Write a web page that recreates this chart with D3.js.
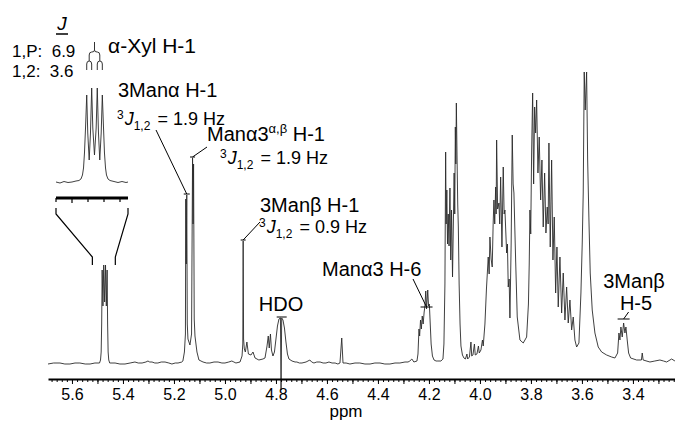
<!DOCTYPE html>
<html><head><meta charset="utf-8">
<script src="https://cdn.jsdelivr.net/npm/d3@7"></script>
<style>
body{margin:0;background:#fff;}
svg{display:block;font-family:"Liberation Sans",Arial,Helvetica,sans-serif;}
</style></head><body>
<svg id="c" width="675" height="423"></svg>
<script>
// ---------- DATA ----------
// [ppm, intensity] vertices of the 1H spectrum trace
const spectrum = [
[5.694,0],[5.672,1],[5.647,1],[5.628,0],[5.608,0],[5.588,1],[5.569,1],[5.548,0],[5.529,0],[5.510,1],[5.498,1],
[5.492,1],[5.488,4],[5.4855,12],[5.4835,40],[5.4816,94],[5.4785,58],[5.4754,99],[5.4719,62],[5.4684,99],[5.4653,58],[5.4621,94],[5.4602,40],[5.4582,12],[5.4557,4],[5.452,1],
[5.431,1],[5.412,0],[5.392,0],[5.372,1],[5.353,2],[5.340,1],[5.325,1],[5.31,2],[5.302,3],[5.295,2],[5.286,2],[5.275,1],[5.263,1],[5.25,2],[5.235,2],[5.22,1],[5.208,0],[5.195,1],[5.184,1],[5.169,2],
[5.165,3],[5.159,12],[5.155,30],[5.1537,165],[5.1518,100],[5.1498,169],[5.1478,40],[5.1451,25],[5.1373,19],[5.131,30],[5.1271,206],[5.1251,140],[5.1231,200],[5.1205,45],[5.1176,28],[5.1098,12],[5.102,4],[5.086,2],
[5.072,1],[5.059,1],[5.043,2],[5.027,2],[5.012,1],[5.000,1],[4.985,2],[4.973,3],[4.965,2],[4.957,1],
[4.941,2],[4.933,8],[4.930,20],[4.9286,123],[4.927,25],[4.924,15],[4.920,12],[4.914,22],[4.908,10],[4.898,9],[4.890,12],[4.882,6],[4.867,4],[4.851,5],
[4.843,6],[4.835,18],[4.8302,28],[4.8263,16],[4.8216,30],[4.8176,14],[4.8118,8],
[4.8059,12],[4.800,25],[4.7941,38],[4.7882,45],[4.7824,46],[4.7800,-26],[4.7775,46],[4.7725,44],[4.7667,36],[4.7608,22],[4.7549,10],[4.749,5],[4.737,3],
[4.725,2],[4.718,2],[4.708,1],[4.698,1],[4.682,2],[4.667,4],[4.660,2],[4.651,1],[4.640,2],[4.627,2],[4.615,1],[4.604,1],[4.592,2],[4.580,1],[4.568,1],[4.557,0],[4.549,1],[4.542,26],[4.537,1],[4.525,1],[4.510,0],[4.490,1],[4.471,1],[4.451,0],[4.431,0],[4.412,1],[4.392,1],[4.373,0],[4.353,0],[4.333,1],[4.314,1],[4.294,2],[4.282,2],[4.275,3],[4.267,5],[4.259,2],[4.247,3],
[4.243,10],[4.239,35],[4.2365,28],[4.233,44],[4.2298,35],[4.2263,48],[4.2227,40],[4.2188,52],[4.2157,58],[4.2125,73],[4.2094,55],[4.2047,74],[4.2016,58],[4.1984,60],[4.1949,40],[4.1914,20],[4.1863,8],[4.180,4],[4.172,3],[4.165,3],[4.153,3],[4.145,5],
[4.1412,20],[4.1373,80],[4.1345,212],[4.1325,140],[4.1298,174],[4.1271,120],[4.1243,150],[4.1212,118],[4.1176,176],[4.1145,104],[4.1114,154],[4.1075,87],[4.1043,140],[4.1012,191],[4.0988,150],[4.0965,237],[4.0945,200],[4.0925,261],[4.0898,207],[4.0871,160],[4.0847,137],[4.0816,80],[4.0780,40],[4.0745,18],[4.0686,9],[4.0627,6],
[4.0569,5],[4.0510,10],[4.0482,5],[4.0412,7],[4.0353,22],[4.0322,8],[4.0275,9],[4.0216,20],[4.0184,9],[4.0118,10],[4.0059,18],[4.0027,11],[3.9961,14],[3.9902,24],[3.9871,18],[3.9804,40],
[3.9745,75],[3.9675,107],[3.9639,90],[3.9608,127],[3.9561,105],[3.9518,97],[3.9482,140],[3.9451,164],[3.9420,140],[3.9384,177],[3.9365,150],[3.9345,224],[3.9306,155],[3.9255,161],[3.9224,140],[3.9188,187],[3.9137,117],[3.9086,197],[3.9051,150],[3.9020,154],[3.8953,111],[3.8922,120],[3.8890,77],[3.8855,85],[3.8824,46],[3.8776,120],[3.8733,229],[3.8698,180],[3.8667,171],[3.8600,104],[3.8537,47],[3.8431,24],[3.8302,21],[3.8169,27],[3.8098,60],[3.8067,100],
[3.8039,154],[3.8008,130],[3.7973,211],[3.7933,271],[3.7894,180],[3.7855,257],[3.7816,231],[3.7776,264],[3.7725,191],[3.7675,227],[3.7620,164],[3.7569,204],[3.7518,137],[3.7463,191],[3.7412,131],[3.7361,157],[3.7325,140],[3.7294,221],[3.7243,117],[3.7188,204],[3.7137,104],[3.7086,147],[3.7031,71],[3.6980,117],[3.6929,57],[3.6863,107],[3.6796,51],[3.6733,91],[3.6667,44],[3.6600,77],[3.6537,41],[3.6471,64],[3.6404,34],[3.6341,47],[3.6275,24],[3.6208,17],[3.6118,21],
[3.6039,71],[3.5988,121],[3.5949,171],[3.5910,292],[3.5871,254],[3.5816,292],[3.5776,204],[3.5725,144],[3.5675,91],[3.5596,54],[3.5490,31],[3.5361,17],[3.5227,12],[3.5031,9],[3.4835,7],[3.4706,6],
[3.4600,11],[3.4549,31],[3.4510,24],[3.4471,37],[3.4420,27],[3.4365,41],[3.4314,31],[3.4275,37],[3.4224,24],[3.4169,11],[3.4090,6],[3.3855,4],[3.3667,4],[3.3635,11],[3.3600,4],[3.3333,2],[3.314,3],[3.2941,4],[3.28,3],[3.2678,2],[3.2482,5],[3.2353,3]
];
// expanded alpha-Xyl H-1 multiplet shown in the inset: [ppm, intensity]
const insetTrace = [
[5.520,1],[5.515,0],[5.510,1.5],[5.505,0.5],[5.500,1],[5.495,2],[5.4913,2.5],[5.4888,4],[5.4869,8],[5.4856,15],[5.4844,30],[5.4831,55],
[5.4816,88],[5.4803,50],[5.4785,23],[5.4769,50],[5.4754,95],[5.4740,55],[5.4719,28],[5.4698,55],[5.4684,95],[5.4669,50],[5.4653,23],[5.4635,50],[5.4621,88],
[5.4606,55],[5.4594,30],[5.4581,15],[5.4569,8],[5.455,4],[5.4525,2.5],[5.4475,1.5],[5.4425,0.5],[5.4375,1.5],[5.4325,0.5],[5.430,1]
];
const xylLines = [5.4816, 5.4754, 5.4684, 5.4621];   // the four lines of the dd
const couplings = [{pair:"1,P", J:6.9}, {pair:"1,2", J:3.6}];
const tickLabels = [5.6,5.4,5.2,5.0,4.8,4.6,4.4,4.2,4.0,3.8,3.6,3.4];
const midTicks = [5.5,5.3,5.1,4.9,4.7,4.5,4.3,4.1,3.9,3.7,3.5,3.3];
const insetTicks = [5.52,5.50,5.48,5.46,5.44];
const insetDomain = [5.52, 5.43];
const jValues = [1.9, 1.9, 0.9];  // 3J1,2 of the three anomeric signals
const annotations = [
  {id:"man3a", text:"3Manα H-1", ppm:5.1498},
  {id:"mana3", text:"Manα3", sup:"α,β", rest:" H-1", ppm:5.1271},
  {id:"man3b", text:"3Manβ H-1", ppm:4.9286},
  {id:"hdo",   text:"HDO", ppm:4.7775},
  {id:"h6",    text:"Manα3 H-6", ppm:4.2094},
  {id:"h5",    text:"3Manβ", line2:"H-5", ppm:3.4365}
];

// ---------- DRAWING ----------
const svg = d3.select("#c");
const x = d3.scaleLinear().domain([5.694, 3.235]).range([48, 675]);
const y = d3.scaleLinear().domain([0, 292]).range([364, 72]);
const ink = "#000";

// spectrum
svg.append("path").datum(spectrum)
  .attr("d", d3.line().x(d=>x(d[0])).y(d=>y(d[1])))
  .attr("fill","none").attr("stroke","#2a2a2a").attr("stroke-width",0.9)
  .attr("stroke-linejoin","round");

// axis
const axisY = 379;
const minorTicks = d3.range(162, 285).map(i => +(i*0.02).toFixed(2)).filter(v => v>=3.24 && v<=5.69);
const gMinor = svg.append("g").attr("transform",`translate(0,${axisY})`)
  .call(d3.axisBottom(x).tickValues(minorTicks).tickSize(3).tickSizeOuter(0).tickFormat(""));
gMinor.select(".domain").remove();
const gMid = svg.append("g").attr("transform",`translate(0,${axisY})`)
  .call(d3.axisBottom(x).tickValues(midTicks).tickSize(5).tickSizeOuter(0).tickFormat(""));
gMid.select(".domain").remove();
const gMaj = svg.append("g").attr("transform",`translate(0,${axisY})`)
  .call(d3.axisBottom(x).tickValues(tickLabels).tickSize(5).tickSizeOuter(0).tickPadding(5).tickFormat(d3.format(".1f")));
gMaj.select(".domain").attr("stroke-width",1.8).attr("stroke",ink);
svg.selectAll(".tick line").attr("stroke",ink).attr("stroke-width",1);
gMaj.selectAll(".tick text").attr("font-size",16).attr("fill",ink)
  .attr("font-family",'"Liberation Sans",Arial,sans-serif');
svg.append("text").attr("x",346).attr("y",417).attr("text-anchor","middle")
  .attr("font-size",17).text("ppm");

// inset
const xi = d3.scaleLinear().domain(insetDomain).range([56,128]);
const yi = d3.scaleLinear().domain([0,95]).range([183,88]);
svg.append("path").datum(insetTrace)
  .attr("d", d3.line().x(d=>xi(d[0])).y(d=>yi(d[1])))
  .attr("fill","none").attr("stroke","#2a2a2a").attr("stroke-width",0.9);
const insetAxisY = 198;
svg.append("line").attr("x1",xi(insetDomain[0])).attr("x2",xi(insetDomain[1]))
  .attr("y1",insetAxisY).attr("y2",insetAxisY).attr("stroke",ink).attr("stroke-width",3);
svg.selectAll(".iTick").data(insetTicks).enter().append("line")
  .attr("x1",d=>xi(d)).attr("x2",d=>xi(d))
  .attr("y1",insetAxisY).attr("y2",(d,i)=>insetAxisY+(i===1?5:4))
  .attr("stroke",ink).attr("stroke-width",1.2);
// zoom brackets
[0,1].forEach(k=>{
  const p = insetDomain[k];
  const xa = xi(p), xb = x(p);
  svg.append("path")
    .attr("d",`M${xa},208 V214 L${xb},257 V265`)
    .attr("fill","none").attr("stroke",ink).attr("stroke-width",1.2);
});
// splitting tree
{
  const L = xylLines.map(xi);
  const s1 = (L[0]+L[1])/2, s2 = (L[2]+L[3])/2, c = (s1+s2)/2;
  let d = `M${c},42 V50 Q${c},52 ${c-2.5},52 H${s1+2.5} Q${s1},52 ${s1},55 V61`;
  d += ` M${c},50 Q${c},52 ${c+2.5},52 H${s2-2.5} Q${s2},52 ${s2},55 V61`;
  [[L[0],L[1]],[L[2],L[3]]].forEach(([a,b])=>{
    d += ` M${a},70 V64 Q${a},61 ${(a+b)/2},61 Q${b},61 ${b},64 V70`;
  });
  svg.append("path").attr("d",d).attr("fill","none").attr("stroke","#333").attr("stroke-width",1);
}
// J table
svg.append("text").attr("x",62).attr("y",30).attr("text-anchor","middle")
  .attr("font-size",19).attr("font-style","italic").text("J");
svg.append("line").attr("x1",56).attr("x2",68).attr("y1",34).attr("y2",34)
  .attr("stroke",ink).attr("stroke-width",1.5);
couplings.forEach((c,i)=>{
  svg.append("text").attr("x",12).attr("y",57+i*20).attr("font-size",17)
    .style("white-space","pre").text(`${c.pair}:  ${c.J.toFixed(1)}`);
});
svg.append("text").attr("x",108).attr("y",53).attr("font-size",21).text("α-Xyl H-1");

// ---------- peak annotations ----------
const nearest = p => spectrum.reduce((a,b)=>Math.abs(b[0]-p)<Math.abs(a[0]-p)?b:a);
const A = Object.fromEntries(annotations.map(a=>[a.id,a]));
function tip(id){ const d = nearest(A[id].ppm); return [x(d[0]), y(d[1])]; }
function leader(from, id, gap, half){
  const [px,py] = tip(id);
  const ty = py - gap;
  if (from) svg.append("line").attr("x1",from[0]).attr("y1",from[1]).attr("x2",px).attr("y2",ty)
    .attr("stroke",ink).attr("stroke-width",1);
  svg.append("line").attr("x1",px-half).attr("x2",px+half).attr("y1",ty).attr("y2",ty)
    .attr("stroke",ink).attr("stroke-width",1);
}
function jLabel(x0, yb, val){
  const t = svg.append("text").attr("x",x0).attr("y",yb).attr("font-size",18).style("white-space","pre");
  t.append("tspan").attr("font-size",12).attr("dy",-6).text("3");
  t.append("tspan").attr("font-style","italic").attr("dy",6).attr("dx",1).text("J");
  t.append("tspan").attr("font-size",12).attr("dy",5).text("1,2");
  t.append("tspan").attr("dy",-5).attr("dx",2).text(` = ${val.toFixed(1)} Hz`);
}
// 3Manα H-1
svg.append("text").attr("x",118).attr("y",97).attr("font-size",20).text(A.man3a.text);
jLabel(117,125,jValues[0]);
leader([156,130],"man3a",1,3);
// Manα3 α,β H-1
{
  const t = svg.append("text").attr("x",207).attr("y",141).attr("font-size",20);
  t.append("tspan").text(A.mana3.text);
  t.append("tspan").attr("font-size",13).attr("dy",-8).text(A.mana3.sup);
  t.append("tspan").attr("dy",8).text(A.mana3.rest);
}
jLabel(220,164,jValues[1]);
leader([207,147],"mana3",1,2.5);
// 3Manβ H-1
svg.append("text").attr("x",260).attr("y",212).attr("font-size",20).text(A.man3b.text);
jLabel(259,233,jValues[2]);
leader([260,222],"man3b",1,2.5);
// HDO
svg.append("text").attr("x",281).attr("y",311).attr("text-anchor","middle").attr("font-size",20).text(A.hdo.text);
leader(null,"hdo",1,5);
// H-6
svg.append("text").attr("x",322).attr("y",276).attr("font-size",20).text(A.h6.text);
{
  const [px,py] = tip("h6");
  svg.append("line").attr("x1",413).attr("y1",279).attr("x2",px).attr("y2",py-2).attr("stroke",ink);
  svg.append("line").attr("x1",px-6).attr("x2",px+6).attr("y1",py-2).attr("y2",py-2).attr("stroke",ink);
}
// H-5
svg.append("text").attr("x",634).attr("y",288).attr("text-anchor","middle").attr("font-size",20).text(A.h5.text);
svg.append("text").attr("x",636).attr("y",310).attr("text-anchor","middle").attr("font-size",20).text(A.h5.line2);
{
  const [px,py] = tip("h5");
  svg.append("line").attr("x1",px-6).attr("x2",px+6).attr("y1",py-4).attr("y2",py-4).attr("stroke",ink);
  svg.append("line").attr("x1",px).attr("y1",py-4).attr("x2",px+5).attr("y2",py-11).attr("stroke",ink);
}
</script>
